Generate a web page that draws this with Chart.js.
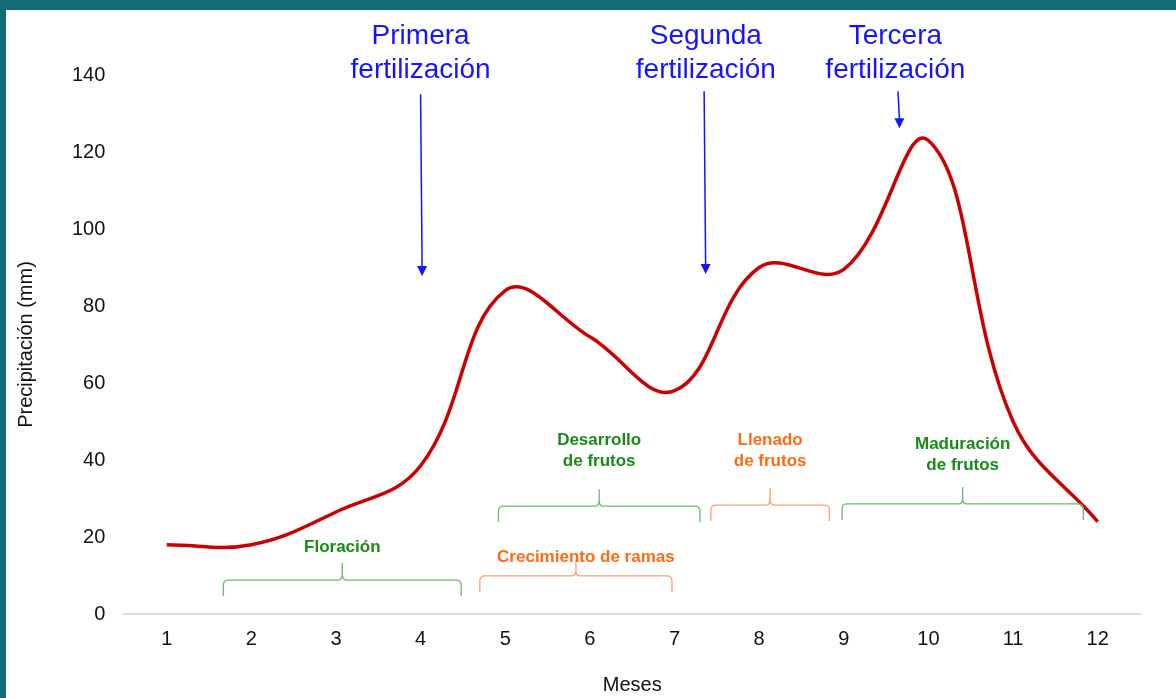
<!DOCTYPE html>
<html>
<head>
<meta charset="utf-8">
<script src="https://cdn.jsdelivr.net/npm/chart.js@4"></script>
<style>
  html, body { margin: 0; padding: 0; }
  body { width: 1176px; height: 698px; background: #146b78; overflow: hidden; }
  #wrap { position: absolute; left: 6px; top: 10px; width: 1170px; height: 688px; background: #fff; }
  canvas { display: block; }
</style>
</head>
<body>
<div id="wrap"><canvas id="myChart" width="1170" height="688"></canvas></div>
<script>
// months and rainfall (mm)
const months = ['1', '2', '3', '4', '5', '6', '7', '8', '9', '10', '11', '12'];
const rain = [18, 18, 26.5, 38.5, 84, 72, 58, 90, 89.5, 123, 50, 24];

// crop phases: name lines, month span, level of the brace (mm), label level (mm)
const phaseNames = [['Floración'], ['Crecimiento de ramas'], ['Desarrollo', 'de frutos'], ['Llenado', 'de frutos'], ['Maduración', 'de frutos']];
const phaseFrom = [1.67, 4.70, 4.92, 7.43, 8.98];
const phaseTo = [4.48, 6.97, 7.30, 8.83, 11.83];
const phaseLevel = [8.8, 9.9, 28.0, 28.3, 28.6];
const phaseLabel = [17.4, 14.8, 45.0, 45.0, 44.2];
const phaseColor = ['green', 'orange', 'green', 'orange', 'green'];

// fertilizations: month, arrow from / to (mm)
const fertNames = [['Primera', 'fertilización'], ['Segunda', 'fertilización'], ['Tercera', 'fertilización']];
const fertMonth = [4.0, 7.35, 9.64];
const fertTextMonth = [4.0, 7.37, 9.61];
const fertFrom = [135, 135.8, 135.8];
const fertTo = [87.8, 88.3, 126.2];

const textColors = { green: '#178a17', orange: '#ff6a13' };
const braceColors = { green: '#6cb86c', orange: '#f7a072' };

Chart.defaults.font.family = '"Liberation Sans", Arial, sans-serif';
Chart.defaults.color = '#111';

const notes = {
    id: 'notes',
    afterDatasetsDraw(chart) {
        const ctx = chart.ctx;
        const x = chart.scales.x, y = chart.scales.y;
        const px = m => x.getPixelForValue(m - 1);
        ctx.save();

        // braces
        for (let i = 0; i < phaseNames.length; i++) {
            const x0 = px(phaseFrom[i]), x1 = px(phaseTo[i]);
            const xm = (x0 + x1) / 2;
            const yb = y.getPixelForValue(phaseLevel[i]);
            ctx.strokeStyle = braceColors[phaseColor[i]];
            ctx.lineWidth = 1.3;
            ctx.beginPath();
            ctx.moveTo(x0, yb + 16);
            ctx.lineTo(x0, yb + 5);
            ctx.quadraticCurveTo(x0, yb, x0 + 5, yb);
            ctx.lineTo(xm - 4, yb);
            ctx.quadraticCurveTo(xm, yb, xm, yb - 6);
            ctx.lineTo(xm, yb - 17);
            ctx.moveTo(xm, yb - 6);
            ctx.quadraticCurveTo(xm, yb, xm + 4, yb);
            ctx.lineTo(x1 - 5, yb);
            ctx.quadraticCurveTo(x1, yb, x1, yb + 5);
            ctx.lineTo(x1, yb + 16);
            ctx.stroke();

            ctx.fillStyle = textColors[phaseColor[i]];
            ctx.font = 'bold 17px "Liberation Sans", Arial, sans-serif';
            ctx.textAlign = 'center';
            ctx.textBaseline = 'middle';
            const ly = y.getPixelForValue(phaseLabel[i]);
            const lx = i === 1 ? xm + 10 : xm;
            phaseNames[i].forEach((t, k) => ctx.fillText(t, lx, ly + k * 21));
        }

        // fertilization arrows
        ctx.strokeStyle = '#1414ff';
        ctx.fillStyle = '#1414ff';
        for (let i = 0; i < fertNames.length; i++) {
            const ax = px(fertMonth[i]);
            const y0 = y.getPixelForValue(fertFrom[i]);
            const y1 = y.getPixelForValue(fertTo[i]);
            ctx.lineWidth = 1.5;
            ctx.beginPath();
            ctx.moveTo(ax, y0);
            ctx.lineTo(ax + 1.5, y1 - 9);
            ctx.stroke();
            ctx.beginPath();
            ctx.moveTo(ax + 1.5 - 5, y1 - 10);
            ctx.lineTo(ax + 1.5 + 5, y1 - 10);
            ctx.lineTo(ax + 1.5, y1);
            ctx.closePath();
            ctx.fill();

            ctx.font = '28px "Liberation Sans", Arial, sans-serif';
            ctx.textAlign = 'center';
            ctx.textBaseline = 'middle';
            const tx = px(fertTextMonth[i]);
            ctx.fillText(fertNames[i][0], tx, y.getPixelForValue(150.1));
            ctx.fillText(fertNames[i][1], tx, y.getPixelForValue(141.2));
        }
        ctx.restore();
    }
};

const ctx = document.getElementById('myChart').getContext('2d');
const data = {
    labels: months,
    datasets: [{
        data: rain,
        borderColor: '#cc0000',
        borderWidth: 3.5,
        tension: 0.4,
        pointRadius: 0,
        fill: false
    }]
};
const options = {
    responsive: false,
    animation: false,
    devicePixelRatio: 1,
    layout: { padding: { top: 65, right: 36, left: 3, bottom: 1 } },
    plugins: { legend: { display: false }, tooltip: { enabled: false } },
    scales: {
        x: {
            offset: true,
            grid: { display: false, drawTicks: false },
            border: { color: '#d9d9d9', width: 2 },
            ticks: { font: { size: 20 }, padding: 13 },
            title: { display: true, text: 'Meses', font: { size: 20 }, padding: { top: 9, bottom: 0 } }
        },
        y: {
            min: 0,
            max: 140,
            grid: { display: false, drawTicks: false },
            border: { display: false },
            ticks: { stepSize: 20, font: { size: 20 }, padding: 19 },
            title: { display: true, text: 'Precipitación (mm)', font: { size: 20 }, padding: { top: 5, bottom: 15 } }
        }
    }
};

let graph = new Chart(ctx, { type: 'line', data: data, options: options, plugins: [notes] });
</script>
</body>
</html>
